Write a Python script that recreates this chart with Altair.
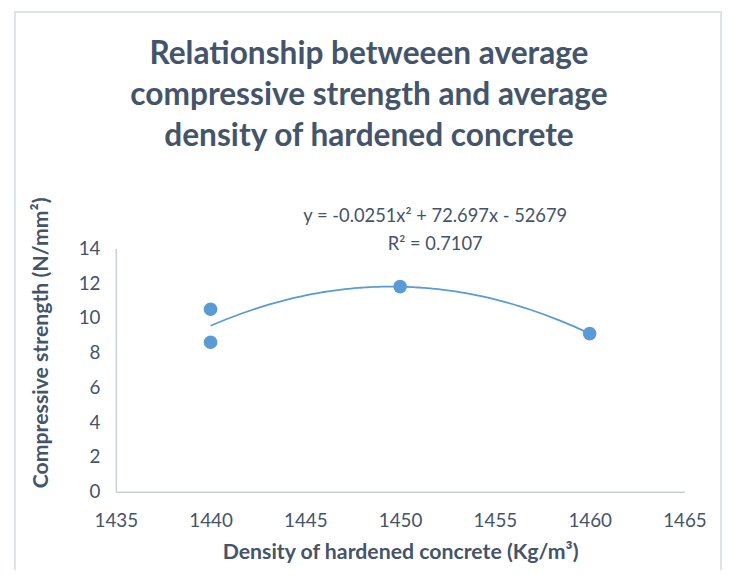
import altair as alt
import pandas as pd

density = [1440, 1440, 1450, 1460]
strength = [10.5, 8.6, 11.8, 9.1]
x_ticks = [1435, 1440, 1445, 1450, 1455, 1460, 1465]
y_ticks = [0, 2, 4, 6, 8, 10, 12, 14]
title_lines = ["Relationship betweeen average", "compressive strength and average", "density of hardened concrete"]
eq_line1 = "y = -0.0251x² + 72.697x - 52679"
eq_line2 = "R² = 0.7107"

df = pd.DataFrame({"density": density, "strength": strength})

FONT = "Lato"
TXT = "#44546A"
BLUE = "#5B9BD5"
AXC = "#C9D0DA"

x_enc = alt.X("density:Q", scale=alt.Scale(domain=[1435, 1465], nice=False, zero=False),
              axis=alt.Axis(values=x_ticks, format="d", title="Density of hardened concrete (Kg/m³)",
                            grid=False, ticks=False, domainColor=AXC, domainWidth=1.5,
                            labelFont=FONT, labelFontSize=19, labelColor=TXT, labelPadding=20,
                            titleFont=FONT, titleFontSize=21.5, titleFontWeight="bold", titleColor=TXT,
                            titleY=62, titleBaseline="middle", labelFlush=False, labelOverlap=False))
y_enc = alt.Y("strength:Q", scale=alt.Scale(domain=[0, 14], nice=False),
              axis=alt.Axis(values=y_ticks, format="d", title="Compressive strength (N/mm²)",
                            grid=False, ticks=False, domainColor=AXC, domainWidth=1.5,
                            labelFont=FONT, labelFontSize=19, labelColor=TXT, labelPadding=16,
                            titleFont=FONT, titleFontSize=21.5, titleFontWeight="bold", titleColor=TXT,
                            titleX=-75, titleY=95, titleAngle=-90, titleAlign="center", titleBaseline="middle",
                            labelOverlap=False))

base = alt.Chart(df)

frame = alt.Chart(pd.DataFrame({"a": [0]})).mark_rect(fillOpacity=0, stroke="#DDE2E8", strokeWidth=2).encode(
    x=alt.value(-102), x2=alt.value(612), y=alt.value(-239), y2=alt.value(340))

trend = base.transform_regression("density", "strength", method="poly", order=2,
                                  extent=[1440, 1460]).mark_line(color=BLUE, strokeWidth=1.8).encode(
    x=x_enc, y=y_enc)

points = base.mark_circle(size=190, color=BLUE, opacity=1).encode(x=x_enc, y=y_enc)

def label(txt, x, y, size=17, weight="normal"):
    return alt.Chart(pd.DataFrame({"t": [txt]})).mark_text(
        font=FONT, fontSize=size, fontWeight=weight, color=TXT, align="center", baseline="middle"
    ).encode(text="t:N", x=alt.value(x), y=alt.value(y))

title_layers = [label(t, 256, yy, size=32, weight="bold") for t, yy in zip(title_lines, [-197, -155, -114])]
eq_layers = [label(eq_line1, 323, -33, size=18.5), label(eq_line2, 323, -4, size=18.5)]

chart = alt.layer(frame, trend, points, *eq_layers, *title_layers).properties(
    width=575, height=246,
    autosize=alt.AutoSizeParams(type="none"),
    padding={"left": 109, "top": 240, "right": 41, "bottom": 76},
).configure_view(stroke=None)

chart.save("out.html", embed_options={"renderer": "svg", "actions": False})
